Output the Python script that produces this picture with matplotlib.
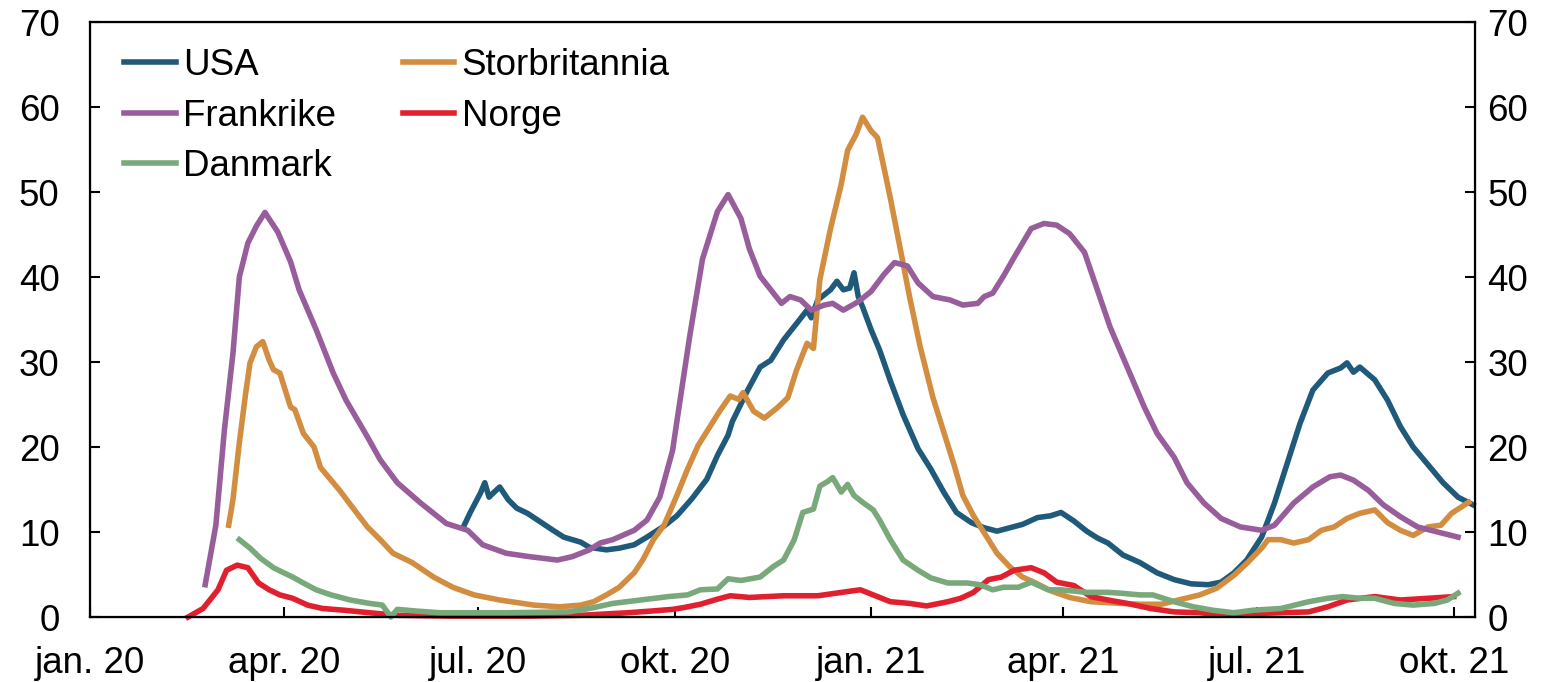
import matplotlib
matplotlib.use("Agg")
import matplotlib.pyplot as plt
import pandas as pd

plt.rcParams["font.family"] = ["Liberation Sans", "DejaVu Sans"]

# --- data (7-day averages) ---
usa_dates = ["2020-06-24", "2020-06-27", "2020-07-02", "2020-07-04", "2020-07-06", "2020-07-08",
             "2020-07-11", "2020-07-15", "2020-07-19", "2020-07-24", "2020-07-30", "2020-08-05",
             "2020-08-10", "2020-08-18", "2020-08-22", "2020-08-30", "2020-09-05", "2020-09-12",
             "2020-09-18", "2020-09-26", "2020-10-02", "2020-10-09", "2020-10-16", "2020-10-21",
             "2020-10-26", "2020-10-28", "2020-11-04", "2020-11-10", "2020-11-15", "2020-11-21",
             "2020-11-27", "2020-12-02", "2020-12-04", "2020-12-07", "2020-12-13", "2020-12-16",
             "2020-12-19", "2020-12-22", "2020-12-24", "2020-12-26", "2020-12-28", "2021-01-01",
             "2021-01-05", "2021-01-10", "2021-01-16", "2021-01-23", "2021-01-29", "2021-02-04",
             "2021-02-10", "2021-02-17", "2021-02-23", "2021-03-01", "2021-03-07", "2021-03-13",
             "2021-03-20", "2021-03-26", "2021-03-31", "2021-04-06", "2021-04-12", "2021-04-17",
             "2021-04-22", "2021-04-29", "2021-05-07", "2021-05-15", "2021-05-23", "2021-05-31",
             "2021-06-08", "2021-06-14", "2021-06-20", "2021-06-26", "2021-07-03", "2021-07-09",
             "2021-07-15", "2021-07-21", "2021-07-27", "2021-08-03", "2021-08-09", "2021-08-12",
             "2021-08-15", "2021-08-18", "2021-08-25", "2021-08-31", "2021-09-06", "2021-09-12",
             "2021-09-20", "2021-09-26", "2021-10-03", "2021-10-10"]
usa = [10.6, 12.2, 14.6, 15.8, 14.1, 14.6,
       15.3, 13.8, 12.8, 12.2, 11.2, 10.2,
       9.4, 8.8, 8.2, 7.9, 8.1, 8.5,
       9.4, 10.7, 11.9, 13.9, 16.2, 19.0,
       21.4, 23.0, 26.6, 29.4, 30.2, 32.6,
       34.5, 36.1, 35.2, 37.3, 38.5, 39.5,
       38.5, 38.7, 40.5, 37.7, 36.5, 33.8,
       31.4, 27.8, 23.8, 19.8, 17.4, 14.7,
       12.3, 11.1, 10.5, 10.1, 10.5, 10.9,
       11.7, 11.9, 12.3, 11.3, 10.1, 9.3,
       8.7, 7.3, 6.4, 5.2, 4.4, 3.9,
       3.8, 4.1, 5.2, 6.7, 9.4, 13.4,
       18.1, 22.8, 26.7, 28.7, 29.3, 29.9,
       28.8, 29.4, 27.9, 25.5, 22.4, 20.0,
       17.6, 15.8, 14.1, 13.2]

uk_dates = ["2020-03-06", "2020-03-08", "2020-03-11", "2020-03-14", "2020-03-16", "2020-03-19",
            "2020-03-22", "2020-03-25", "2020-03-27", "2020-03-30", "2020-04-04", "2020-04-06",
            "2020-04-10", "2020-04-15", "2020-04-18", "2020-04-23", "2020-04-27", "2020-05-03",
            "2020-05-10", "2020-05-16", "2020-05-22", "2020-05-31", "2020-06-10", "2020-06-19",
            "2020-06-29", "2020-07-11", "2020-07-27", "2020-08-08", "2020-08-18", "2020-08-24",
            "2020-08-30", "2020-09-05", "2020-09-12", "2020-09-16", "2020-09-21", "2020-09-26",
            "2020-10-02", "2020-10-07", "2020-10-12", "2020-10-18", "2020-10-22", "2020-10-27",
            "2020-10-31", "2020-11-02", "2020-11-07", "2020-11-12", "2020-11-18", "2020-11-23",
            "2020-11-27", "2020-12-02", "2020-12-05", "2020-12-08", "2020-12-13", "2020-12-18",
            "2020-12-21", "2020-12-25", "2020-12-28", "2021-01-01", "2021-01-04", "2021-01-07",
            "2021-01-10", "2021-01-15", "2021-01-19", "2021-01-24", "2021-01-30", "2021-02-04",
            "2021-02-09", "2021-02-13", "2021-02-18", "2021-02-23", "2021-03-01", "2021-03-07",
            "2021-03-13", "2021-03-20", "2021-03-26", "2021-04-04", "2021-04-14", "2021-04-28",
            "2021-05-07", "2021-05-17", "2021-05-25", "2021-06-04", "2021-06-12", "2021-06-20",
            "2021-06-26", "2021-07-03", "2021-07-06", "2021-07-12", "2021-07-18", "2021-07-25",
            "2021-07-31", "2021-08-06", "2021-08-12", "2021-08-18", "2021-08-25", "2021-08-31",
            "2021-09-06", "2021-09-12", "2021-09-19", "2021-09-25", "2021-09-30", "2021-10-08"]
uk = [10.8, 13.8, 20.5, 26.4, 29.9, 31.8,
      32.4, 30.2, 29.1, 28.7, 24.7, 24.4,
      21.6, 20.0, 17.6, 16.1, 14.9, 12.9,
      10.6, 9.1, 7.5, 6.4, 4.7, 3.5,
      2.6, 2.0, 1.4, 1.2, 1.4, 1.8,
      2.6, 3.5, 5.2, 6.7, 9.1, 10.8,
      14.3, 17.4, 20.2, 22.6, 24.2, 26.0,
      25.6, 26.4, 24.2, 23.4, 24.6, 25.8,
      29.0, 32.2, 31.6, 39.7, 45.7, 50.9,
      54.9, 56.8, 58.8, 57.2, 56.4, 52.9,
      49.3, 42.9, 37.7, 31.8, 25.8, 21.8,
      17.8, 14.3, 11.9, 9.9, 7.5, 5.9,
      4.7, 3.9, 3.1, 2.3, 1.8, 1.6,
      1.5, 1.5, 2.0, 2.6, 3.4, 4.9,
      6.3, 8.1, 9.1, 9.1, 8.7, 9.1,
      10.2, 10.6, 11.6, 12.2, 12.6, 11.1,
      10.2, 9.6, 10.6, 10.8, 12.2, 13.5]

fr_dates = ["2020-02-24", "2020-02-29", "2020-03-04", "2020-03-08", "2020-03-11", "2020-03-15",
            "2020-03-19", "2020-03-23", "2020-03-29", "2020-04-04", "2020-04-08", "2020-04-16",
            "2020-04-24", "2020-04-30", "2020-05-10", "2020-05-16", "2020-05-24", "2020-06-04",
            "2020-06-16", "2020-06-26", "2020-07-03", "2020-07-14", "2020-07-25", "2020-08-07",
            "2020-08-14", "2020-08-22", "2020-08-27", "2020-09-02", "2020-09-12", "2020-09-18",
            "2020-09-24", "2020-09-30", "2020-10-02", "2020-10-08", "2020-10-14", "2020-10-21",
            "2020-10-26", "2020-11-01", "2020-11-05", "2020-11-10", "2020-11-15", "2020-11-20",
            "2020-11-24", "2020-11-29", "2020-12-04", "2020-12-10", "2020-12-14", "2020-12-19",
            "2020-12-26", "2021-01-01", "2021-01-07", "2021-01-12", "2021-01-18", "2021-01-23",
            "2021-01-30", "2021-02-07", "2021-02-13", "2021-02-20", "2021-02-23", "2021-02-27",
            "2021-03-04", "2021-03-09", "2021-03-17", "2021-03-23", "2021-03-29", "2021-04-04",
            "2021-04-11", "2021-04-17", "2021-04-23", "2021-05-01", "2021-05-09", "2021-05-15",
            "2021-05-23", "2021-05-29", "2021-06-06", "2021-06-14", "2021-06-23", "2021-07-03",
            "2021-07-09", "2021-07-18", "2021-07-27", "2021-08-04", "2021-08-09", "2021-08-15",
            "2021-08-22", "2021-08-29", "2021-09-06", "2021-09-14", "2021-09-25", "2021-10-03"]
fr = [3.8, 10.8, 22.0, 31.0, 40.0, 44.0,
      46.0, 47.6, 45.3, 41.8, 38.5, 33.8,
      28.7, 25.5, 21.2, 18.5, 15.8, 13.4,
      11.0, 10.2, 8.5, 7.5, 7.1, 6.7,
      7.1, 7.9, 8.7, 9.1, 10.2, 11.4,
      14.1, 19.6, 23.0, 33.0, 42.1, 47.7,
      49.7, 46.9, 43.3, 40.1, 38.5, 36.9,
      37.7, 37.3, 36.1, 36.7, 36.9, 36.1,
      37.1, 38.3, 40.3, 41.7, 41.3, 39.3,
      37.7, 37.3, 36.7, 36.9, 37.7, 38.1,
      40.1, 42.3, 45.7, 46.3, 46.1, 45.1,
      42.9, 38.5, 34.1, 29.4, 24.7, 21.6,
      18.8, 15.8, 13.4, 11.6, 10.6, 10.2,
      10.8, 13.4, 15.3, 16.5, 16.7, 16.1,
      14.9, 13.2, 11.8, 10.6, 9.9, 9.4]

no_dates = ["2020-02-16", "2020-02-23", "2020-03-01", "2020-03-05", "2020-03-10", "2020-03-15",
            "2020-03-20", "2020-03-25", "2020-03-30", "2020-04-05", "2020-04-12", "2020-04-19",
            "2020-04-29", "2020-05-11", "2020-05-24", "2020-06-18", "2020-07-25", "2020-08-18",
            "2020-09-09", "2020-09-20", "2020-09-30", "2020-10-05", "2020-10-13", "2020-10-21",
            "2020-10-27", "2020-11-05", "2020-11-21", "2020-12-07", "2020-12-24", "2020-12-27",
            "2021-01-02", "2021-01-10", "2021-01-19", "2021-01-27", "2021-02-06", "2021-02-12",
            "2021-02-18", "2021-02-25", "2021-03-03", "2021-03-09", "2021-03-17", "2021-03-23",
            "2021-03-29", "2021-04-06", "2021-04-14", "2021-04-22", "2021-05-01", "2021-05-12",
            "2021-05-23", "2021-06-04", "2021-06-17", "2021-06-29", "2021-07-12", "2021-07-25",
            "2021-08-03", "2021-08-12", "2021-08-25", "2021-09-06", "2021-09-19", "2021-10-01"]
no = [0.0, 1.0, 3.2, 5.5, 6.1, 5.8,
      4.0, 3.2, 2.6, 2.2, 1.4, 1.0,
      0.8, 0.5, 0.2, 0.1, 0.1, 0.2,
      0.5, 0.7, 0.9, 1.1, 1.5, 2.1,
      2.5, 2.3, 2.5, 2.5, 3.1, 3.2,
      2.6, 1.8, 1.6, 1.3, 1.8, 2.2,
      2.9, 4.4, 4.7, 5.5, 5.8, 5.2,
      4.1, 3.7, 2.4, 2.0, 1.6, 1.0,
      0.6, 0.5, 0.2, 0.4, 0.5, 0.6,
      1.2, 2.0, 2.4, 2.0, 2.2, 2.4]

dk_dates = ["2020-03-11", "2020-03-16", "2020-03-21", "2020-03-27", "2020-03-31", "2020-04-05",
            "2020-04-10", "2020-04-16", "2020-04-23", "2020-05-02", "2020-05-11", "2020-05-17",
            "2020-05-21", "2020-05-24", "2020-06-02", "2020-06-13", "2020-07-15", "2020-08-12",
            "2020-08-22", "2020-09-02", "2020-09-15", "2020-09-28", "2020-10-07", "2020-10-13",
            "2020-10-21", "2020-10-26", "2020-11-01", "2020-11-10", "2020-11-16", "2020-11-21",
            "2020-11-26", "2020-11-30", "2020-12-05", "2020-12-08", "2020-12-12", "2020-12-14",
            "2020-12-18", "2020-12-21", "2020-12-24", "2020-12-28", "2021-01-02", "2021-01-05",
            "2021-01-10", "2021-01-16", "2021-01-23", "2021-01-29", "2021-02-06", "2021-02-15",
            "2021-02-21", "2021-02-27", "2021-03-04", "2021-03-11", "2021-03-17", "2021-03-25",
            "2021-03-31", "2021-04-12", "2021-04-22", "2021-04-28", "2021-05-07", "2021-05-13",
            "2021-05-23", "2021-06-01", "2021-06-10", "2021-06-20", "2021-06-29", "2021-07-12",
            "2021-07-25", "2021-08-03", "2021-08-10", "2021-08-18", "2021-08-25", "2021-09-03",
            "2021-09-12", "2021-09-22", "2021-09-28", "2021-10-03"]
dk = [9.1, 8.1, 6.9, 5.8, 5.3, 4.7,
      4.0, 3.2, 2.6, 2.0, 1.6, 1.4,
      0.0, 0.9, 0.7, 0.5, 0.5, 0.6,
      1.0, 1.6, 2.0, 2.4, 2.6, 3.2,
      3.3, 4.5, 4.3, 4.7, 5.9, 6.7,
      9.1, 12.3, 12.7, 15.4, 16.0, 16.4,
      14.7, 15.6, 14.3, 13.5, 12.6, 11.4,
      9.1, 6.7, 5.5, 4.6, 4.0, 4.0,
      3.8, 3.2, 3.5, 3.5, 4.1, 3.2,
      3.2, 2.9, 2.9, 2.8, 2.6, 2.6,
      1.8, 1.2, 0.8, 0.5, 0.8, 1.0,
      1.8, 2.2, 2.4, 2.2, 2.2, 1.6,
      1.4, 1.6, 2.0, 2.8]

tick_dates = ["2020-01-01", "2020-04-01", "2020-07-01", "2020-10-01",
              "2021-01-01", "2021-04-01", "2021-07-01", "2021-10-01"]
tick_labels = ["jan. 20", "apr. 20", "jul. 20", "okt. 20",
               "jan. 21", "apr. 21", "jul. 21", "okt. 21"]

fs = 26.5
fig = plt.figure(figsize=(15.56, 6.82), dpi=100)
ax = fig.add_axes([0.0578, 0.0953, 0.8902, 0.8724])

lw = 4.0
l_usa, = ax.plot(pd.to_datetime(usa_dates), usa, color="#1f5a7b", lw=lw, label="USA")
l_uk, = ax.plot(pd.to_datetime(uk_dates), uk, color="#d38d40", lw=lw, label="Storbritannia")
l_fr, = ax.plot(pd.to_datetime(fr_dates), fr, color="#985e9c", lw=lw, label="Frankrike")
l_no, = ax.plot(pd.to_datetime(no_dates), no, color="#e0202e", lw=lw, label="Norge")
l_dk, = ax.plot(pd.to_datetime(dk_dates), dk, color="#79a97b", lw=lw, label="Danmark")
for l in (l_usa, l_uk, l_fr, l_no, l_dk):
    l.set_clip_on(False)

ax.set_xlim(pd.Timestamp("2020-01-01"), pd.Timestamp("2021-10-11"))
ax.set_ylim(0, 70)
ax.set_yticks(range(0, 71, 10))
ax.set_xticks(pd.to_datetime(tick_dates))
ax.set_xticklabels(tick_labels)

for s in ax.spines.values():
    s.set_linewidth(1.6)
ax.tick_params(axis="x", direction="in", length=7, width=1.5, labelsize=fs, pad=21)
ax.tick_params(axis="y", direction="in", length=7, width=1.5, labelsize=fs, pad=22)

ax2 = ax.twinx()
ax2.set_ylim(0, 70)
ax2.set_yticks(range(0, 71, 10))
ax2.tick_params(axis="y", direction="in", length=7, width=1.5, labelsize=fs, pad=9)

leg = ax.legend(handles=[l_usa, l_fr, l_dk, l_uk, l_no], ncol=2, frameon=False,
                loc="upper left", bbox_to_anchor=(0.009, 0.993), fontsize=fs,
                handlelength=1.4, handletextpad=0.2, columnspacing=1.8,
                labelspacing=0.42, borderaxespad=0.2)

fig.savefig("out.png", dpi=100)
